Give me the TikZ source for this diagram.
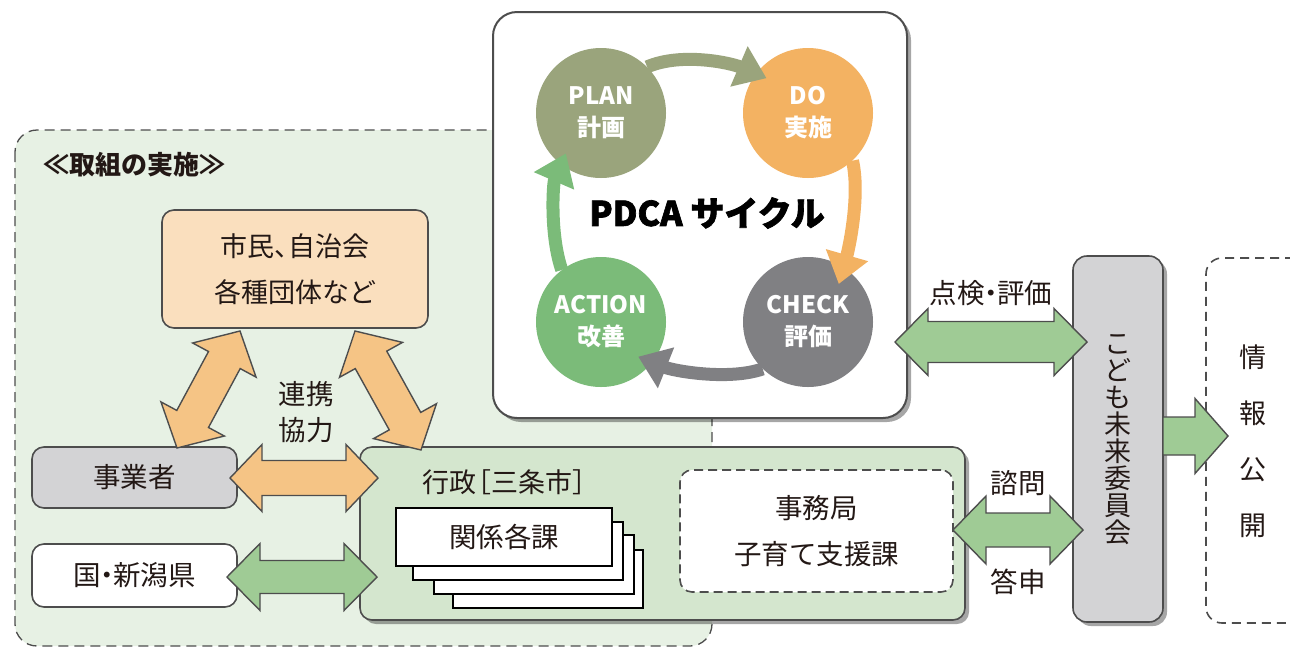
\documentclass[tikz,border=0pt]{standalone}
\usepackage{fontspec}
\setmainfont{Noto Sans CJK JP}
\usetikzlibrary{calc,arrows.meta,shadows}
\definecolor{lineg}{HTML}{4D4D4D}
\definecolor{regionfill}{HTML}{E7F1E4}
\definecolor{gyoseifill}{HTML}{D4E6CE}
\definecolor{orangebox}{HTML}{FADFBE}
\definecolor{orangearr}{HTML}{F5C485}
\definecolor{greenarr}{HTML}{9FCB95}
\definecolor{graybox}{HTML}{D3D3D5}
\definecolor{planc}{HTML}{9AA47C}
\definecolor{doc}{HTML}{F3B262}
\definecolor{checkc}{HTML}{808083}
\definecolor{actionc}{HTML}{7BBB79}
\definecolor{txt}{HTML}{231815}
\newcommand{\hdot}{\kern-0.28em・\kern-0.28em}
\newcommand{\fatdbl}[6]{%
  \draw[fatarrow, fill=#3] (#1)
   -- ($($(#1)!#6!(#2)$)!#5!90:(#2)$)
   -- ($($(#1)!#6!(#2)$)!#4!90:(#2)$)
   -- ($($(#2)!#6!(#1)$)!#4!-90:(#1)$)
   -- ($($(#2)!#6!(#1)$)!#5!-90:(#1)$)
   -- (#2)
   -- ($($(#2)!#6!(#1)$)!#5!90:(#1)$)
   -- ($($(#2)!#6!(#1)$)!#4!90:(#1)$)
   -- ($($(#1)!#6!(#2)$)!#4!-90:(#2)$)
   -- ($($(#1)!#6!(#2)$)!#5!-90:(#2)$)
   -- cycle;}
\newcommand{\fatone}[6]{%
  \draw[fatarrow, fill=#3] ($(#1)!#4!90:(#2)$)
   -- ($($(#2)!#6!(#1)$)!#4!-90:(#1)$)
   -- ($($(#2)!#6!(#1)$)!#5!-90:(#1)$)
   -- (#2)
   -- ($($(#2)!#6!(#1)$)!#5!90:(#1)$)
   -- ($($(#2)!#6!(#1)$)!#4!90:(#1)$)
   -- ($(#1)!#4!-90:(#2)$)
   -- cycle;}
\tikzset{
  bx/.style={draw=lineg, line width=1.6pt, rounded corners=12pt, inner sep=0pt, outer sep=0pt, text=txt},
  jp/.style={font=\fontsize{27.5}{30}\selectfont, text=txt},
  fatarrow/.style={draw=lineg, line width=1.4pt, line join=miter},
  card/.style={draw=black, line width=1.3pt, fill=white},
  cyc/.style={line width=13pt, -{Triangle[length=30pt,width=42pt]}},
  circ/.style={circle, minimum size=130pt, inner sep=0pt, text=white, align=center,
     font=\bfseries\fontsize{24}{32}\selectfont},
  shad/.style={drop shadow={shadow xshift=4pt, shadow yshift=-4pt, fill=black, opacity=0.35}}
}
\begin{document}
\begin{tikzpicture}[x=1pt,y=-1pt]
\useasboundingbox (0,0) rectangle (1290,646);
% region
\draw[draw=lineg, line width=1.3pt, dash pattern=on 10pt off 6pt, fill=regionfill, rounded corners=22pt]
  (15,130) rectangle (712,646);
% PDCA box
\node[bx, fill=white, rounded corners=24pt, minimum width=414pt, minimum height=406pt, line width=2pt, shad] (pdca) at (700,215) {};
\node[circ, fill=planc] (plan) at (601,113) {PLAN\\計画};
\node[circ, fill=doc] (do) at (808,113) {DO\\実施};
\node[circ, fill=checkc] (check) at (808,322) {CHECK\\評価};
\node[circ, fill=actionc] (action) at (601,322) {ACTION\\改善};
\draw[cyc, draw=planc] (plan.45) .. controls +(35,-15) and +(-35,-15) .. ($(do.center)!0.83!(do.140)$);
\draw[cyc, draw=doc] (do.-47) .. controls +(8,35) and +(10,-35) .. ($(check.center)!0.75!(check.51)$);
\draw[cyc, draw=checkc] (check.226) .. controls +(-35,12) and +(35,14) .. ($(action.center)!0.78!(action.-43)$);
\draw[cyc, draw=actionc] (action.127) .. controls +(-12,-35) and +(-13,30) .. ($(plan.center)!0.82!(plan.229)$);
\node[font=\bfseries\fontsize{34}{40}\selectfont\addfontfeature{FakeBold=2}, text=black] (pdcat) at (707,213) {PDCA サイクル};
% title
\node[anchor=west, font=\bfseries\fontsize{26}{30}\selectfont, text=txt] (title) at (40,165) {≪取組の実施≫};
% boxes
\node[bx, fill=orangebox, minimum width=266pt, minimum height=118pt, align=center, font=\fontsize{27}{46}\selectfont] (shimin) at (295,269) {市民、\kern-0.45em自治会\\各種団体など};
\node[bx, fill=graybox, minimum width=205pt, minimum height=61pt, jp] (jigyo) at (134.5,477.5) {事業者};
\node[bx, fill=white, minimum width=205pt, minimum height=63pt, jp] (kuni) at (134.5,575.5) {国\hdot 新潟県};
\node[bx, fill=gyoseifill, minimum width=605pt, minimum height=173pt, shad] (gyosei) at (662.5,533.5) {};
\node[jp, font=\fontsize{27}{30}\selectfont] (gyoseit) at (505,482) {行政\kern-0.45em［三条市］\kern-0.45em};
\draw[card] (453,550) rectangle (643,608);
\draw[card] (434,535) rectangle (634,594);
\draw[card] (413,522) rectangle (623,580);
\node[card, minimum width=216pt, minimum height=58pt, inner sep=0pt, jp] (kakka) at (504,537) {関係各課};
\node[bx, fill=white, dash pattern=on 9pt off 5pt, minimum width=273pt, minimum height=122pt, align=center, font=\fontsize{27.5}{46}\selectfont] (jimu) at (816.5,531) {事務局\\子育て支援課};
\node[bx, fill=graybox, rounded corners=14pt, minimum width=90pt, minimum height=366pt, shad] (iinkai) at (1118,439) {};
\node[align=center, font=\fontsize{27}{27}\selectfont, text=txt] (iinkait) at (1118,440) {こ\\ど\\も\\未\\来\\委\\員\\会};
\node[bx, fill=white, dash pattern=on 9pt off 6pt, rounded corners=16pt, minimum width=104pt, minimum height=365pt] (joho) at (1258,440.5) {};
\node[align=center, font=\fontsize{27}{56}\selectfont, text=txt] (johot) at (1253,441) {情\\報\\公\\開};
% labels
\node[jp] (renkei) at (306,394) {連携};
\node[jp] (kyoryoku) at (306,430) {協力};
\node[jp] (tenken) at (991,293) {点検\hdot 評価};
\node[jp] (shimon) at (1018,483) {諮問};
\node[jp] (toshin) at (1018,582) {答申};
% fat arrows
\coordinate (d1a) at (240,331); \coordinate (d1b) at (177,448);
\coordinate (d2a) at (355,331); \coordinate (d2b) at (421,450);
\coordinate (h1a) at (230,478); \coordinate (h1b) at (378,478);
\coordinate (h2a) at (227,577); \coordinate (h2b) at (377,577);
\coordinate (t1a) at (895,342); \coordinate (t1b) at (1087,342);
\coordinate (s1a) at (953,530); \coordinate (s1b) at (1083,530);
\coordinate (j1a) at (1163,436); \coordinate (j1b) at (1228,436);
\fatdbl{d1a}{d1b}{orangearr}{18pt}{36pt}{33pt}
\fatdbl{d2a}{d2b}{orangearr}{18pt}{36pt}{33pt}
\fatdbl{h1a}{h1b}{orangearr}{17.5pt}{33.5pt}{32pt}
\fatdbl{h2a}{h2b}{greenarr}{16.5pt}{33.5pt}{33pt}
\fatdbl{t1a}{t1b}{greenarr}{20.5pt}{33.5pt}{33pt}
\fatdbl{s1a}{s1b}{greenarr}{17pt}{34pt}{33pt}
\fatone{j1a}{j1b}{greenarr}{19pt}{37.5pt}{33pt}
\end{tikzpicture}
\end{document}
